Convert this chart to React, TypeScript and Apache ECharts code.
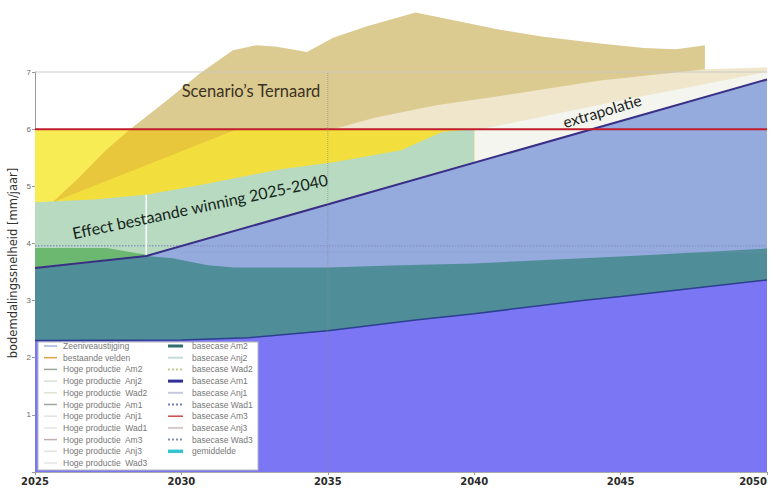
import React, { useEffect, useRef } from "react";
import * as echarts from "echarts";

// ---- axes ----
const xTicks = [2025, 2030, 2035, 2040, 2045, 2050];
const yTicks = [0, 1, 2, 3, 4, 5, 6, 7];

// ---- areas (painted from back to front) ----
const ternaardUpper = [
  [2025.6, 4.72], [2026.5, 5.15], [2027.4, 5.62], [2028.25, 6.0], [2029.5, 6.5],
  [2030.64, 6.98], [2031.76, 7.38], [2032.58, 7.47], [2033.26, 7.44], [2034.29, 7.35],
  [2035.18, 7.6], [2036.34, 7.8], [2038.0, 8.04], [2039.17, 7.92], [2040.88, 7.74],
  [2042.3, 7.62], [2044.3, 7.5], [2045.8, 7.42], [2046.9, 7.4], [2047.88, 7.47],
];
const ternaardLower = [
  [2035.18, 6.0], [2036.6, 6.2], [2038.7, 6.42], [2040.88, 6.58], [2044.3, 6.85], [2047.9, 7.05], [2050, 7.08],
];
const extrapolatieUpper = [[2039.95, 5.97], [2045, 6.5], [2050, 7.0]];
const yellowUpper = [[2025, 6.0], [2040, 6.0]];
const goldWedge = [[2025.6, 4.72], [2026.5, 5.15], [2027.4, 5.62], [2028.25, 6.0], [2031.9, 6.0]];
const yellowRight = [[2025.6, 4.72], [2031.9, 6.0], [2040, 6.0]];
const effectUpper = [
  [2025, 4.72], [2027, 4.77], [2028.8, 4.85], [2030.6, 5.02], [2033.4, 5.3],
  [2035.2, 5.42], [2037.5, 5.63], [2038.9, 5.95], [2040, 6.0],
];
const greenUpper = [[2025, 3.92], [2027.45, 3.92], [2028.8, 3.8]];
const basecaseAm1 = [[2025, 3.57], [2028.8, 3.78], [2050, 6.87]];
const lavenderUpper = [[2028.8, 3.78], [2050, 6.87]];
const tealUpper = [
  [2025, 3.57], [2026.6, 3.64], [2028.8, 3.78], [2029.7, 3.74], [2030.9, 3.62],
  [2031.8, 3.58], [2035, 3.58], [2037.5, 3.62], [2040, 3.65], [2045, 3.77], [2050, 3.91],
];
const purpleUpper = [[2025, 2.3], [2030, 2.31], [2032.3, 2.35], [2035, 2.47], [2038, 2.66], [2040, 2.77], [2043.7, 3.0], [2045, 3.07], [2050, 3.36]];

// ---- lines ----
const wadDotted1 = [[2025, 3.96], [2050, 3.96]];
const wadDotted2 = [[2030, 3.85], [2050, 3.85]];
const limit6 = [[2025, 6], [2050, 6]];
const top7 = [[2025, 7], [2050, 7]];
const vline2035 = [[2035, 0], [2035, 7]];
const vline2028 = [[2028.8, 3.8], [2028.8, 4.85]];

// ---- legend ----
const legendLeft = [
  "Zeeniveaustijging", "bestaande velden", "Hoge productie  Am2", "Hoge productie  Anj2",
  "Hoge productie  Wad2", "Hoge productie  Am1", "Hoge productie  Anj1", "Hoge productie  Wad1",
  "Hoge productie  Am3", "Hoge productie  Anj3", "Hoge productie  Wad3",
];
const legendLeftColors = [
  "#9fb3e2", "#e3a443", "#9ea596", "#dadfd3", "#e2e2d2", "#a3a3a3",
  "#e2e2e2", "#e4e4e4", "#c5adad", "#e0e0e0", "#e4e4e4",
];
const legendRight = [
  "basecase Am2", "basecase Anj2", "basecase Wad2", "basecase Am1", "basecase Anj1",
  "basecase Wad1", "basecase Am3", "basecase Anj3", "basecase Wad3", "gemiddelde",
];
const legendRightColors = [
  "#2f6f70", "#c5dada", "#c8c890", "#33309c", "#c3cae0",
  "#7080c0", "#d04848", "#d9c9c9", "#8090b0", "#36c2d2",
];
const legendRightDotted = [false, false, true, false, false, true, false, false, true, false];
const legendRightWidth = [3, 2, 2, 3, 2, 2, 1.5, 2, 2, 3.5];

function area(data: number[][], color: string) {
  return {
    type: "line",
    data,
    symbol: "none",
    silent: true,
    clip: false,
    lineStyle: { opacity: 0, width: 0 },
    areaStyle: { color, opacity: 1, origin: "start" },
  };
}
function line(data: number[][], color: string, width: number, type: string = "solid", opacity = 1) {
  return {
    type: "line",
    data,
    symbol: "none",
    silent: true,
    clip: false,
    lineStyle: { color, width, type, opacity },
  };
}

export default function App() {
  const ref = useRef<HTMLDivElement>(null);
  useEffect(() => {
    if (!ref.current) return;
    document.documentElement.style.overflow = "hidden";
    document.body.style.margin = "0";
    document.body.style.overflow = "hidden";
    const chart = echarts.init(ref.current, undefined, { renderer: "svg", width: 772, height: 489 });
    const rowY = (i: number) => 346 + i * 11.7;
    const legendEls: any[] = [
      {
        type: "rect",
        z: 100,
        shape: { x: 38, y: 342, width: 220, height: 128 },
        style: { fill: "#ffffff", stroke: "#b8b8b8", lineWidth: 1 },
      },
    ];
    legendLeft.forEach((name, i) => {
      legendEls.push({
        type: "line",
        z: 101,
        shape: { x1: 44, y1: rowY(i), x2: 57, y2: rowY(i) },
        style: { stroke: legendLeftColors[i], lineWidth: 1.5 },
      });
      legendEls.push({
        type: "text",
        z: 101,
        x: 63,
        y: rowY(i),
        style: { text: name, fill: "#777", font: "8.5px 'Liberation Sans', Arial, sans-serif", verticalAlign: "middle" },
      });
    });
    legendRight.forEach((name, i) => {
      const st: any = { stroke: legendRightColors[i], lineWidth: legendRightWidth[i] };
      if (legendRightDotted[i]) st.lineDash = [2, 2];
      legendEls.push({
        type: "line",
        z: 101,
        shape: { x1: 168, y1: rowY(i), x2: 183, y2: rowY(i) },
        style: st,
      });
      legendEls.push({
        type: "text",
        z: 101,
        x: 192,
        y: rowY(i),
        style: { text: name, fill: "#777", font: "8.5px 'Liberation Sans', Arial, sans-serif", verticalAlign: "middle" },
      });
    });

    const option: any = {
      animation: false,
      backgroundColor: "#ffffff",
      grid: { left: 35, right: 5, top: 72, bottom: 17, outerBoundsMode: "none", containLabel: false },
      xAxis: {
        type: "value",
        min: xTicks[0],
        max: xTicks[xTicks.length - 1],
        interval: 5,
        axisLine: { show: true, lineStyle: { color: "#aaaaaa" } },
        axisTick: { show: true, length: 3, lineStyle: { color: "#999" } },
        splitLine: { show: false },
        axisLabel: {
          color: "#2a2a2a",
          fontSize: 10,
          fontWeight: "bold",
          fontFamily: "'DejaVu Sans', sans-serif",
          margin: 4,
          alignMaxLabel: "right",
          formatter: (v: number) => (xTicks.includes(v) ? String(v) : ""),
        },
      },
      yAxis: {
        type: "value",
        min: yTicks[0],
        max: yTicks[yTicks.length - 1],
        interval: 1,
        axisLine: { show: true, lineStyle: { color: "#999999" } },
        axisTick: { show: true, length: 3, lineStyle: { color: "#999" } },
        splitLine: { show: false },
        axisLabel: {
          color: "#6a6a6a",
          fontSize: 8,
          margin: 4,
          formatter: (v: number) => (v === 0 ? "" : String(v)),
        },
      },
      series: [
        area(ternaardUpper, "#dccb90"),
        area(ternaardLower, "#efe6cc"),
        area(extrapolatieUpper, "#f3f5ee"),
        area(yellowUpper, "#f8ec55"),
        area(goldWedge, "#e9c73c"),
        area(yellowRight, "#f2df3d"),
        area(effectUpper, "#b8dac1"),
        area(greenUpper, "#6db870"),
        area(lavenderUpper, "#95aadd"),
        area(tealUpper, "#4f8e98"),
        area(purpleUpper, "#7b76f3"),
        line(wadDotted1, "#8593c4", 1.5, "dotted", 0.9),
        line(wadDotted2, "#8593c4", 1, "dotted", 0.6),
        line(purpleUpper, "#2c3f90", 1.5),
        line(basecaseAm1, "#3a2f86", 2),
        line(vline2028, "#ffffff", 1.5),
        line(limit6, "#c01c2c", 2),
        line(top7, "#c8c8c8", 1, "solid", 0.9),
        line(vline2035, "#8a8a8a", 1, "dotted", 0.7),
      ],
      graphic: [
        {
          type: "text",
          x: 13,
          y: 263,
          rotation: Math.PI / 2,
          style: {
            text: "bodemdalingssnelheid [mm/jaar]",
            fill: "#333",
            font: "11.5px 'DejaVu Sans', sans-serif",
            align: "center",
            verticalAlign: "middle",
          },
        },
        {
          type: "text",
          x: 251,
          y: 91,
          z: 10,
          style: {
            text: "Scenario\u2019s Ternaard",
            fill: "#3b3223",
            font: "16.5px Lato, 'Open Sans', sans-serif",
            align: "center",
            verticalAlign: "middle",
          },
        },
        {
          type: "text",
          x: 200,
          y: 206,
          rotation: 0.208,
          z: 10,
          style: {
            text: "Effect bestaande winning 2025-2040",
            fill: "#15251a",
            font: "16px Lato, 'Open Sans', sans-serif",
            align: "center",
            verticalAlign: "middle",
          },
        },
        {
          type: "text",
          x: 602,
          y: 111,
          rotation: 0.29,
          z: 10,
          style: {
            text: "extrapolatie",
            fill: "#222",
            font: "15.5px Lato, 'Open Sans', sans-serif",
            align: "center",
            verticalAlign: "middle",
          },
        },
        ...legendEls,
      ],
    };
    chart.setOption(option);
    return () => chart.dispose();
  }, []);
  return (
    <div
      ref={ref}
      style={{ position: "fixed", left: 0, top: 0, width: 772, height: 489, background: "#fff" }}
    />
  );
}
